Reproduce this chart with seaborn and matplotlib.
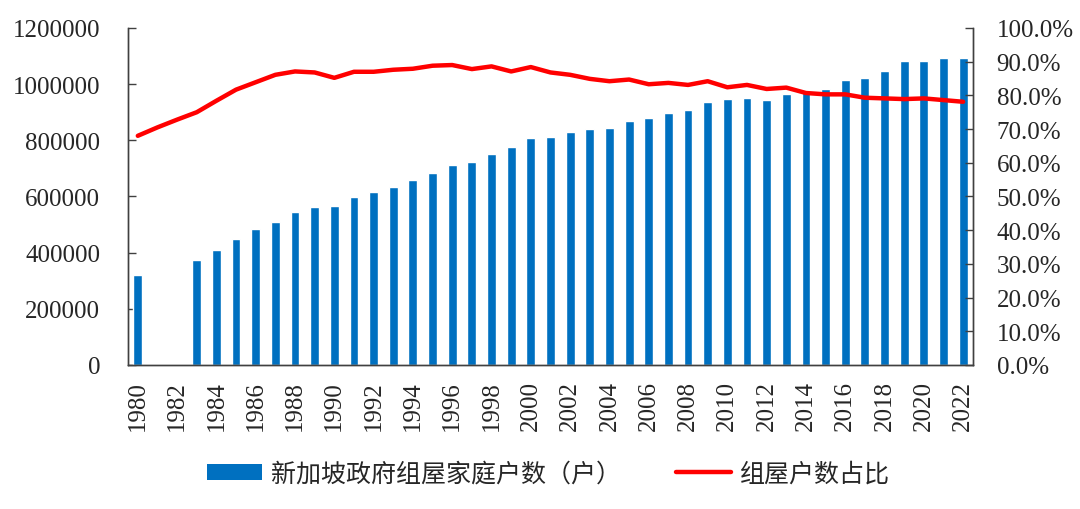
"""Singapore HDB households (bars) and share of HDB households (line), 1980-2022."""
import numpy as np
import pandas as pd
import matplotlib
matplotlib.use("Agg")
import matplotlib.pyplot as plt
from matplotlib.patches import Patch
from matplotlib.lines import Line2D
from matplotlib.ticker import FuncFormatter, FixedLocator
import seaborn as sns

years = list(range(1980, 2023))
# 1981 and 1982 have no household figure
households = [
    321000, np.nan, np.nan, 374000, 410000, 450000, 484000, 510000, 543000, 561000,
    565000, 597000, 616000, 635000, 660000, 683000, 713000, 723000, 750000, 776000,
    808000, 811000, 830000, 840000, 844000, 868000, 878000, 897000, 908000, 937000,
    947000, 951000, 942000, 964000, 971000, 984000, 1014000, 1021000, 1046000, 1081000,
    1082000, 1092000, 1093000,
]
share = [
    0.680, 0.705, 0.728, 0.750, 0.784, 0.817, 0.839, 0.861, 0.871, 0.868,
    0.852, 0.870, 0.870, 0.876, 0.879, 0.888, 0.890, 0.878, 0.886, 0.871,
    0.884, 0.868, 0.861, 0.849, 0.842, 0.847, 0.833, 0.837, 0.831, 0.842,
    0.824, 0.831, 0.819, 0.823, 0.807, 0.803, 0.803, 0.793, 0.791, 0.789,
    0.791, 0.786, 0.781,
]
bar_label = "新加坡政府组屋家庭户数（户）"
line_label = "组屋户数占比"

bar_color = "#0070C0"
line_color = "#FF0000"

sns.set_style("white")
plt.rcParams["font.family"] = ["Liberation Serif", "Noto Sans CJK SC", "DejaVu Sans"]

df = pd.DataFrame({"year": [str(y) for y in years], "households": households, "share": share})
order = df["year"].tolist()
n = len(order)

fig = plt.figure(figsize=(10.8, 5.1), dpi=100)
ax = fig.add_axes([0.1185, 0.2824, 0.7824, 0.6608])

sns.barplot(data=df.fillna(0), x="year", y="households", order=order,
            color=bar_color, saturation=1, width=0.45, ax=ax)
ax.set_xlim(-0.5, n - 0.5)
ax.set_ylim(0, 1200000)
ax.set_yticks(np.arange(0, 1200001, 200000))
ax.yaxis.set_major_formatter(FuncFormatter(lambda v, p: f"{int(v)}"))
ax.set_xlabel("")
ax.set_ylabel("")

# labels every other year, tick marks between categories
ax.set_xticks(np.arange(0, n, 2))
ax.set_xticklabels(order[::2], rotation=90)
ax.tick_params(axis="x", which="major", length=0, pad=11, labelsize=18)
ax.xaxis.set_minor_locator(FixedLocator(np.arange(1.5, n, 2)))
ax.tick_params(axis="x", which="minor", direction="in", length=6, width=1, color="#404040")
ax.tick_params(axis="y", direction="in", length=6, width=1, color="#404040", labelsize=18, pad=20)

ax2 = ax.twinx()
sns.lineplot(x=np.arange(n), y=df["share"].to_numpy(), color=line_color, linewidth=3.2, ax=ax2)
ax2.set_ylim(0, 1.0)
ax2.set_yticks(np.arange(0, 1.0001, 0.1))
ax2.yaxis.set_major_formatter(FuncFormatter(lambda v, p: f"{v * 100:.1f}%"))
ax2.tick_params(axis="y", direction="in", length=6, width=1, color="#404040", labelsize=18, pad=17)
ax2.set_xlim(-0.5, n - 0.5)

for a in (ax, ax2):
    a.spines["top"].set_visible(False)
    for s in ("left", "right", "bottom"):
        a.spines[s].set_color("#404040")
        a.spines[s].set_linewidth(1)

handles = [Patch(facecolor=bar_color, edgecolor="none", label=bar_label),
           Line2D([0], [0], color=line_color, linewidth=3.2, label=line_label)]
fig.legend(handles=handles, loc="center", bbox_to_anchor=(0.508, 0.069), ncol=2,
           frameon=False, prop={"family": ["Noto Sans CJK SC"], "size": 18},
           handlelength=2.2, handleheight=0.6, columnspacing=2.2, handletextpad=0.35)

fig.savefig("out.png", dpi=100)
